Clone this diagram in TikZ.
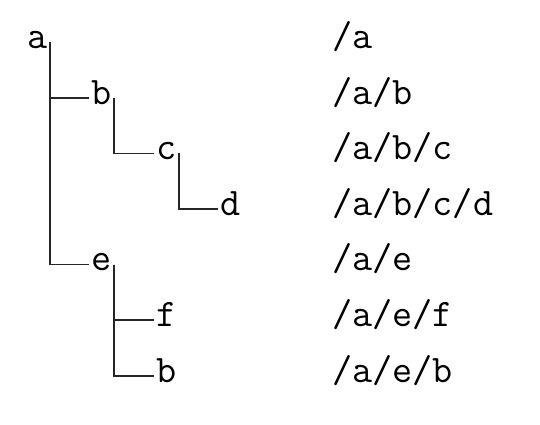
\documentclass[tikz,border=0pt]{standalone}
\begin{document}
\begin{tikzpicture}[x=0.5pt,y=-0.5pt,
  lbl/.style={inner xsep=1pt,inner ysep=0pt,anchor=base west,font=\fontsize{19.5}{23}\selectfont\ttfamily},
  conn/.style={line width=0.75pt,draw=black!85}]
\useasboundingbox (0,0) rectangle (540,424);
% tree labels
\node[lbl] (na) at (25,48.5) {a};
\node[lbl] (nb) at (89,104.1) {b};
\node[lbl] (nc) at (154,159.7) {c};
\node[lbl] (nd) at (218,215.3) {d};
\node[lbl] (ne) at (89,270.9) {e};
\node[lbl] (nf) at (154,326.5) {f};
\node[lbl] (nb2) at (154,382.1) {b};
% paths
\node[lbl] (pa) at (330,48.5) {/a};
\node[lbl] (pb) at (330,104.1) {/a/b};
\node[lbl] (pc) at (330,159.7) {/a/b/c};
\node[lbl] (pd) at (330,215.3) {/a/b/c/d};
\node[lbl] (pe) at (330,270.9) {/a/e};
\node[lbl] (pf) at (330,326.5) {/a/e/f};
\node[lbl] (pb2) at (330,382.1) {/a/e/b};
% connectors
\tikzset{up/.style={yshift=1pt}}
\draw[conn] ([up]na.mid east) |- ([up]nb.mid west);
\draw[conn] ([up]na.mid east) |- ([up]ne.mid west);
\draw[conn] ([up]nb.mid east) |- ([up]nc.mid west);
\draw[conn] ([up]nc.mid east) |- ([up]nd.mid west);
\draw[conn] ([up]ne.mid east) |- ([up]nf.mid west);
\draw[conn] ([up]ne.mid east) |- ([up]nb2.mid west);
\end{tikzpicture}
\end{document}
